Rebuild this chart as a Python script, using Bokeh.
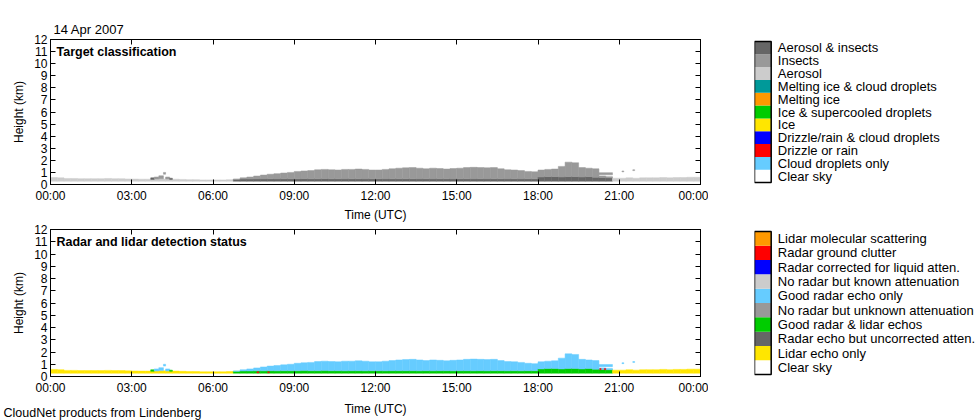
import numpy as np
from bokeh.plotting import figure
from bokeh.layouts import column, row
from bokeh.models import ColumnDataSource, Range1d, FixedTicker, LinearAxis, Label, Title
from bokeh.core.properties import value
from bokeh.embed import file_html
from bokeh.resources import INLINE

FONT = "Liberation Sans"

# ---- data ----
date_text = "14 Apr 2007"
site_text = "CloudNet products from Lindenberg"
time_title = "Time (UTC)"

time_ticks = [0, 3, 6, 9, 12, 15, 18, 21, 24]
time_labels = ["00:00", "03:00", "06:00", "09:00", "12:00", "15:00", "18:00", "21:00", "00:00"]
height_ticks = [0, 1, 2, 3, 4, 5, 6, 7, 8, 9, 10, 11, 12]

bin_hours = 0.25          # 15 min columns
lowest_gate = 0.27        # km

# top of lidar echo (km), one value per 15 min
lidar_top = [
    0.58, 0.55, 0.50, 0.50,  0.48, 0.48, 0.48, 0.48,  0.50, 0.48, 0.48, 0.46,
    0.45, 0.44, 0.44, 0.45,  0.46, 0.45, 0.44, 0.42,  0.40, 0.40, 0.38, 0.38,
    0.38, 0.38, 0.40, 0.42,  0.45, 0.45, 0.46, 0.46,  0.47, 0.46, 0.47, 0.47,
    0.47, 0.48, 0.47, 0.47,  0.48, 0.47, 0.47, 0.46,  0.47, 0.47, 0.46, 0.47,
    0.47, 0.46, 0.47, 0.47,  0.47, 0.47, 0.46, 0.47,  0.46, 0.47, 0.47, 0.46,
    0.47, 0.47, 0.46, 0.47,  0.46, 0.47, 0.47, 0.46,  0.47, 0.46, 0.47, 0.47,
    0.62, 0.65, 0.65, 0.62,  0.65, 0.65, 0.62, 0.65,  0.60, 0.58, 0.55, 0.52,
    0.52, 0.55, 0.52, 0.55,  0.55, 0.55, 0.58, 0.55,  0.58, 0.58, 0.60, 0.60,
]

# top of radar echo (km), 0 = no radar echo
radar_top = [
    0, 0, 0, 0,  0, 0, 0, 0,  0, 0, 0, 0,
    0, 0, 0, 0,  0, 0, 0, 0,  0, 0, 0, 0,
    0, 0, 0, 0.45,  0.55, 0.62, 0.70, 0.78,  0.85, 0.90, 0.95, 1.00,
    1.08, 1.12, 1.15, 1.22,  1.25, 1.22, 1.20, 1.25,  1.25, 1.28, 1.25, 1.20,
    1.20, 1.25, 1.30, 1.35,  1.38, 1.40, 1.35, 1.30,  1.35, 1.32, 1.28, 1.32,
    1.35, 1.40, 1.42, 1.40,  1.38, 1.40, 1.30, 1.22,  1.20, 1.15, 1.08, 1.05,
    1.20, 1.25, 1.28, 1.50,  1.85, 1.80, 1.40, 1.35,  1.30, 0.70, 0.65, 0,
    0, 0, 0, 0,  0, 0, 0, 0,  0, 0, 0, 0,
]

# isolated echoes
speck_start  = [3.70, 3.83, 4.00, 4.17, 4.25, 4.40, 20.20, 21.10, 21.50, 7.62, 8.02, 20.28, 20.45]
speck_end    = [3.83, 4.00, 4.17, 4.25, 4.40, 4.50, 20.75, 21.17, 21.57, 7.70, 8.08, 20.33, 20.50]
speck_bottom = [0.42, 0.45, 0.48, 0.85, 0.45, 0.42, 0.80, 1.05, 1.15, 0.30, 0.30, 0.55, 0.55]
speck_top    = [0.55, 0.62, 0.72, 1.00, 0.62, 0.52, 0.98, 1.12, 1.22, 0.38, 0.38, 0.65, 0.65]
speck_status = [3, 5, 5, 5, 5, 3, 5, 5, 5, 8, 8, 8, 8]

target_names = ["Clear sky", "Cloud droplets only", "Drizzle or rain",
                "Drizzle/rain & cloud droplets", "Ice", "Ice & supercooled droplets",
                "Melting ice", "Melting ice & cloud droplets", "Aerosol", "Insects",
                "Aerosol & insects"]
target_colors = ["#FFFFFF", "#66CCFF", "#FF0000", "#0000FF", "#FFE600", "#00CC00",
                 "#FF9900", "#009999", "#CCCCCC", "#999999", "#666666"]

status_names = ["Clear sky", "Lidar echo only", "Radar echo but uncorrected atten.",
                "Good radar & lidar echos", "No radar but unknown attenuation",
                "Good radar echo only", "No radar but known attenuation",
                "Radar corrected for liquid atten.", "Radar ground clutter",
                "Lidar molecular scattering"]
status_colors = ["#FFFFFF", "#FFE600", "#666666", "#00CC00", "#999999", "#66CCFF",
                 "#CCCCCC", "#0000FF", "#FF0000", "#FF9900"]

# detection status -> target class
status_to_target = {1: 8, 3: 10, 5: 9}


def build_cells():
    cells = []
    for i in range(len(lidar_top)):
        t0 = i * bin_hours
        t1 = t0 + bin_hours
        lid = lidar_top[i]
        rad = radar_top[i]
        if rad > 0:
            split = min(lid, rad)
            cells.append((t0, t1, lowest_gate, split, 3))
            if rad > split:
                cells.append((t0, t1, split, rad, 5))
        else:
            cells.append((t0, t1, lowest_gate, lid, 1))
    for c in zip(speck_start, speck_end, speck_bottom, speck_top, speck_status):
        cells.append(c)
    return cells


def cell_source(cells, colors, mapping=None):
    d = dict(left=[], right=[], bottom=[], top=[], color=[])
    for t0, t1, b, t, s in cells:
        if mapping is not None:
            if s not in mapping:
                continue
            s = mapping[s]
        d["left"].append(t0)
        d["right"].append(t1)
        d["bottom"].append(b)
        d["top"].append(t)
        d["color"].append(colors[s])
    return ColumnDataSource(d)


def style_axis(ax, labels=True):
    ax.axis_line_color = "black"
    ax.major_tick_line_color = "black"
    ax.major_tick_in = 5
    ax.major_tick_out = 0
    ax.minor_tick_line_color = None
    if labels:
        ax.major_label_text_font = FONT
        ax.major_label_text_font_size = "12px"
        ax.major_label_text_color = "black"
        ax.axis_label_text_font = FONT
        ax.axis_label_text_font_size = "12px"
        ax.axis_label_text_font_style = "normal"
        ax.axis_label_text_color = "black"
    else:
        ax.major_label_text_color = None
        ax.major_label_text_font_size = "0px"
        ax.major_label_standoff = 0
        ax.axis_label_standoff = 0


def make_panel(title, src, height, b_top, b_bottom, axis_title):
    p = figure(width=708, height=height, x_range=Range1d(0, 24), y_range=Range1d(0, 12),
               output_backend="svg", toolbar_location=None, tools="",
               min_border_left=50, min_border_right=8,
               min_border_top=b_top, min_border_bottom=b_bottom)
    p.quad(left="left", right="right", bottom="bottom", top="top",
           fill_color="color", line_color="color", line_width=0.5, source=src)

    p.xgrid.visible = False
    p.ygrid.visible = False
    p.outline_line_color = "black"

    p.xaxis.ticker = FixedTicker(ticks=time_ticks, minor_ticks=[])
    p.xaxis.major_label_overrides = {t: l for t, l in zip(time_ticks, time_labels)}
    if axis_title:
        p.xaxis.axis_label = axis_title
    p.yaxis.ticker = FixedTicker(ticks=height_ticks, minor_ticks=[])
    p.yaxis.axis_label = "Height (km)"
    style_axis(p.xaxis[0])
    style_axis(p.yaxis[0])
    p.xaxis.major_label_standoff = 4
    p.xaxis.axis_label_standoff = 2
    p.yaxis.major_label_standoff = 3
    p.yaxis.axis_label_standoff = 5

    top_ax = LinearAxis(ticker=FixedTicker(ticks=time_ticks, minor_ticks=[]))
    style_axis(top_ax, labels=False)
    p.add_layout(top_ax, "above")
    right_ax = LinearAxis(ticker=FixedTicker(ticks=height_ticks, minor_ticks=[]))
    style_axis(right_ax, labels=False)
    p.add_layout(right_ax, "right")

    p.add_layout(Label(x=0, y=12, x_offset=6, y_offset=-5, text=title,
                       text_baseline="top", text_font=FONT, text_font_size="12.5px",
                       text_font_style="bold", text_color="black"))
    return p


def make_key(names, colors, height, b_top, b_bottom):
    n = len(names)
    pad = 2 / (150 / n)
    k = figure(width=272, height=height, x_range=Range1d(0, 226),
               y_range=Range1d(-pad, n + pad), x_axis_type=None, y_axis_type=None,
               output_backend="svg", toolbar_location=None, tools="",
               min_border_left=46, min_border_right=0,
               min_border_top=b_top, min_border_bottom=b_bottom)
    k.xgrid.visible = False
    k.ygrid.visible = False
    k.outline_line_color = None
    idx = np.arange(n)
    k.quad(left=0, right=16.7, bottom=idx, top=idx + 1, fill_color=colors, line_color=None)
    k.quad(left=0, right=16.7, bottom=0, top=n, fill_color=None,
           line_color="black", line_width=1.5)
    k.text(x=23.3, y=idx + 0.5, text=names, text_baseline="middle",
           text_font=value(FONT), text_font_size="13px", text_color="black")
    return k


cells = build_cells()
src_target = cell_source(cells, target_colors, status_to_target)
src_status = cell_source(cells, status_colors)

# top row: frame 39..189
p1 = make_panel("Target classification", src_target, 224, 39, 35, time_title)
p1.add_layout(Title(text=date_text, align="left", offset=3, standoff=5,
                    text_font=FONT, text_font_size="13px", text_font_style="normal",
                    text_color="black"), "above")
k1 = make_key(target_names, target_colors, 224, 37, 33)

# bottom row: frame 229..379, tick labels only
p2 = make_panel("Radar and lidar detection status", src_status, 173, 5, 18, None)
k2 = make_key(status_names, status_colors, 173, 3, 16)

# footer strip with site name and the lower time axis title
foot = figure(width=980, height=23, x_range=Range1d(0, 980), y_range=Range1d(23, 0),
              x_axis_type=None, y_axis_type=None, output_backend="svg",
              toolbar_location=None, tools="", min_border=0)
foot.xgrid.visible = False
foot.ygrid.visible = False
foot.outline_line_color = None
foot.text(x=[3], y=[15.5], text=[site_text], text_baseline="alphabetic",
          text_align="left", text_font=value(FONT), text_font_size="12.5px",
          text_color="black")
foot.text(x=[375], y=[4], text=[time_title], text_baseline="top",
          text_align="center", text_font=value(FONT), text_font_size="12px",
          text_color="black")

layout = column(row(p1, k1), row(p2, k2), foot)

open("out.html", "w").write(file_html(layout, INLINE))
